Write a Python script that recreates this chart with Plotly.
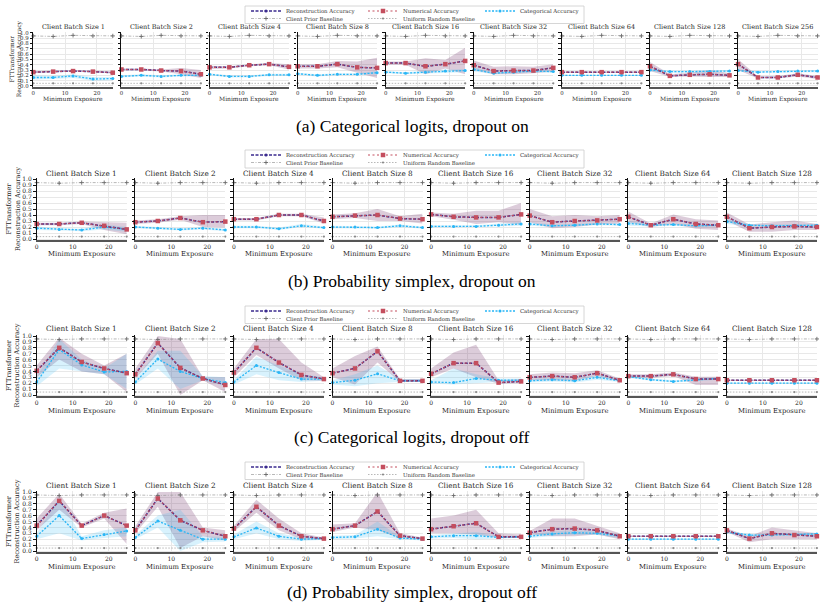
import plotly.graph_objects as go

# ---------------- data ----------------
X = [0, 6.25, 12.5, 18.75, 25]
X_TICKS = [0, 10, 20]
Y_TICKS = [0.0, 0.1, 0.2, 0.3, 0.4, 0.5, 0.6, 0.7, 0.8, 0.9, 1.0]
Y_TICK_TEXT = ["0.0", "0.1", "0.2", "0.3", "0.4", "0.5", "0.6", "0.7", "0.8", "0.9", "1.0"]

CAPTIONS = ["(a) Categorical logits, dropout on",
            "(b) Probability simplex, dropout on",
            "(c) Categorical logits, dropout off",
            "(d) Probability simplex, dropout off"]

# (a) Categorical logits, dropout on
BS_A = [1, 2, 4, 8, 16, 32, 64, 128, 256]
NUM_A = [[0.26, 0.27, 0.28, 0.27, 0.25], [0.31, 0.31, 0.29, 0.28, 0.22], [0.35, 0.35, 0.39, 0.41, 0.36],
         [0.37, 0.37, 0.41, 0.35, 0.34], [0.43, 0.43, 0.37, 0.41, 0.47], [0.39, 0.28, 0.29, 0.29, 0.34],
         [0.26, 0.26, 0.26, 0.26, 0.26], [0.37, 0.19, 0.21, 0.22, 0.20], [0.41, 0.16, 0.16, 0.21, 0.16]]
NUM_LO_A = [[0.24, 0.26, 0.27, 0.25, 0.24], [0.29, 0.29, 0.27, 0.22, 0.15], [0.32, 0.33, 0.37, 0.39, 0.31],
            [0.33, 0.33, 0.35, 0.25, 0.15], [0.40, 0.40, 0.22, 0.33, 0.22], [0.30, 0.22, 0.22, 0.24, 0.27],
            [0.25, 0.25, 0.25, 0.25, 0.25], [0.28, 0.17, 0.18, 0.17, 0.17], [0.30, 0.14, 0.14, 0.18, 0.13]]
NUM_HI_A = [[0.28, 0.29, 0.30, 0.29, 0.27], [0.33, 0.33, 0.31, 0.34, 0.30], [0.38, 0.37, 0.41, 0.43, 0.41],
            [0.41, 0.41, 0.47, 0.46, 0.53], [0.46, 0.46, 0.52, 0.49, 0.72], [0.48, 0.36, 0.37, 0.36, 0.41],
            [0.27, 0.27, 0.27, 0.27, 0.27], [0.45, 0.22, 0.25, 0.30, 0.24], [0.50, 0.18, 0.19, 0.24, 0.19]]
CAT_A = [[0.16, 0.16, 0.19, 0.13, 0.14], [0.18, 0.20, 0.18, 0.20, 0.20], [0.22, 0.18, 0.18, 0.21, 0.21],
         [0.23, 0.20, 0.22, 0.22, 0.25], [0.26, 0.24, 0.26, 0.28, 0.29], [0.31, 0.24, 0.26, 0.28, 0.27],
         [0.20, 0.20, 0.20, 0.20, 0.20], [0.30, 0.27, 0.27, 0.27, 0.28], [0.29, 0.26, 0.27, 0.28, 0.28]]
CAT_LO_A = [[0.12, 0.13, 0.15, 0.10, 0.11], [0.16, 0.18, 0.16, 0.18, 0.18], [0.20, 0.16, 0.16, 0.19, 0.19],
            [0.21, 0.18, 0.20, 0.20, 0.22], [0.24, 0.22, 0.23, 0.25, 0.26], [0.27, 0.22, 0.24, 0.26, 0.25],
            [0.19, 0.19, 0.19, 0.19, 0.19], [0.27, 0.25, 0.25, 0.25, 0.26], [0.27, 0.25, 0.26, 0.26, 0.26]]
CAT_HI_A = [[0.20, 0.19, 0.22, 0.17, 0.17], [0.20, 0.22, 0.20, 0.22, 0.22], [0.24, 0.20, 0.20, 0.23, 0.23],
            [0.25, 0.22, 0.24, 0.24, 0.28], [0.28, 0.26, 0.29, 0.31, 0.32], [0.35, 0.26, 0.28, 0.30, 0.29],
            [0.21, 0.21, 0.21, 0.21, 0.21], [0.33, 0.29, 0.29, 0.30, 0.30], [0.31, 0.28, 0.29, 0.30, 0.30]]
PRIOR_A = [0.94, 0.93, 0.95, 0.94, 0.94]
UNIFORM_A = [0.05, 0.05, 0.05, 0.05, 0.05]

# (b) Probability simplex, dropout on
BS_B = [1, 2, 4, 8, 16, 32, 64, 128]
NUM_B = [[0.25, 0.25, 0.27, 0.22, 0.16], [0.28, 0.30, 0.35, 0.28, 0.29], [0.33, 0.33, 0.40, 0.40, 0.30],
         [0.37, 0.39, 0.40, 0.34, 0.33], [0.41, 0.37, 0.36, 0.36, 0.41], [0.39, 0.28, 0.30, 0.31, 0.33],
         [0.37, 0.23, 0.33, 0.25, 0.23], [0.37, 0.18, 0.20, 0.21, 0.20]]
NUM_LO_B = [[0.23, 0.23, 0.25, 0.15, 0.08], [0.25, 0.27, 0.32, 0.20, 0.19], [0.31, 0.31, 0.38, 0.38, 0.26],
            [0.33, 0.35, 0.30, 0.30, 0.26], [0.38, 0.32, 0.25, 0.28, 0.24], [0.28, 0.18, 0.20, 0.24, 0.26],
            [0.28, 0.20, 0.25, 0.17, 0.15], [0.30, 0.12, 0.12, 0.15, 0.15]]
NUM_HI_B = [[0.27, 0.27, 0.29, 0.28, 0.27], [0.31, 0.33, 0.38, 0.40, 0.40], [0.35, 0.35, 0.42, 0.42, 0.36],
            [0.41, 0.43, 0.50, 0.38, 0.42], [0.44, 0.42, 0.47, 0.47, 0.60], [0.50, 0.38, 0.40, 0.38, 0.40],
            [0.46, 0.26, 0.41, 0.33, 0.31], [0.44, 0.24, 0.28, 0.31, 0.25]]
CAT_B = [[0.18, 0.16, 0.15, 0.20, 0.16], [0.20, 0.18, 0.16, 0.18, 0.15], [0.20, 0.20, 0.17, 0.22, 0.19],
         [0.20, 0.20, 0.19, 0.22, 0.19], [0.21, 0.21, 0.21, 0.23, 0.25], [0.25, 0.22, 0.23, 0.25, 0.24],
         [0.26, 0.23, 0.24, 0.22, 0.23], [0.29, 0.23, 0.22, 0.23, 0.23]]
CAT_LO_B = [[0.15, 0.14, 0.13, 0.16, 0.12], [0.18, 0.16, 0.14, 0.16, 0.13], [0.18, 0.18, 0.15, 0.20, 0.17],
            [0.18, 0.18, 0.17, 0.20, 0.17], [0.19, 0.19, 0.19, 0.21, 0.22], [0.22, 0.20, 0.21, 0.23, 0.22],
            [0.22, 0.21, 0.22, 0.20, 0.21], [0.25, 0.21, 0.20, 0.21, 0.21]]
CAT_HI_B = [[0.21, 0.18, 0.17, 0.24, 0.20], [0.22, 0.20, 0.18, 0.20, 0.17], [0.22, 0.22, 0.19, 0.25, 0.21],
            [0.22, 0.22, 0.21, 0.24, 0.21], [0.23, 0.23, 0.23, 0.26, 0.28], [0.28, 0.24, 0.25, 0.27, 0.26],
            [0.30, 0.25, 0.26, 0.24, 0.25], [0.33, 0.25, 0.24, 0.25, 0.25]]
PRIOR_B = [0.94, 0.93, 0.94, 0.94, 0.94]
UNIFORM_B = [0.04, 0.04, 0.04, 0.04, 0.04]

# (c) Categorical logits, dropout off
BS_C = [1, 2, 4, 8, 16, 32, 64, 128]
NUM_C = [[0.41, 0.80, 0.56, 0.45, 0.37], [0.35, 0.88, 0.46, 0.28, 0.17], [0.38, 0.80, 0.55, 0.34, 0.27],
         [0.37, 0.45, 0.74, 0.24, 0.24], [0.36, 0.54, 0.54, 0.21, 0.23], [0.30, 0.32, 0.30, 0.37, 0.25],
         [0.32, 0.32, 0.35, 0.27, 0.27], [0.25, 0.25, 0.25, 0.25, 0.25]]
NUM_LO_C = [[0.30, 0.60, 0.40, 0.35, 0.05], [0.28, 0.70, 0.00, 0.25, 0.05], [0.30, 0.68, 0.45, 0.25, 0.24],
            [0.30, 0.18, 0.55, 0.22, 0.22], [0.30, 0.45, 0.30, 0.19, 0.20], [0.25, 0.25, 0.24, 0.32, 0.23],
            [0.29, 0.29, 0.32, 0.17, 0.17], [0.24, 0.24, 0.24, 0.24, 0.24]]
NUM_HI_C = [[0.50, 0.97, 0.70, 0.50, 0.70], [0.45, 1.00, 0.95, 0.30, 0.30], [0.45, 0.95, 0.95, 0.55, 0.30],
            [0.45, 0.66, 0.82, 0.27, 0.27], [0.45, 0.72, 0.85, 0.25, 0.27], [0.35, 0.38, 0.37, 0.42, 0.28],
            [0.35, 0.35, 0.38, 0.31, 0.31], [0.26, 0.26, 0.26, 0.26, 0.26]]
CAT_C = [[0.22, 0.77, 0.51, 0.39, 0.40], [0.22, 0.61, 0.40, 0.28, 0.21], [0.22, 0.50, 0.38, 0.27, 0.27],
         [0.21, 0.25, 0.36, 0.24, 0.24], [0.22, 0.21, 0.28, 0.25, 0.25], [0.24, 0.26, 0.24, 0.30, 0.24],
         [0.31, 0.26, 0.23, 0.26, 0.28], [0.20, 0.20, 0.20, 0.20, 0.20]]
CAT_LO_C = [[0.15, 0.45, 0.40, 0.35, 0.10], [0.18, 0.45, 0.10, 0.25, 0.15], [0.18, 0.35, 0.25, 0.22, 0.24],
            [0.18, 0.15, 0.20, 0.22, 0.22], [0.19, 0.18, 0.20, 0.22, 0.22], [0.21, 0.23, 0.21, 0.26, 0.22],
            [0.29, 0.24, 0.21, 0.24, 0.26], [0.19, 0.19, 0.19, 0.19, 0.19]]
CAT_HI_C = [[0.30, 0.95, 0.60, 0.45, 0.70], [0.28, 0.75, 0.75, 0.32, 0.30], [0.26, 0.65, 0.50, 0.35, 0.30],
            [0.25, 0.35, 0.50, 0.27, 0.27], [0.25, 0.45, 0.35, 0.28, 0.28], [0.27, 0.29, 0.27, 0.34, 0.26],
            [0.33, 0.28, 0.25, 0.28, 0.30], [0.21, 0.21, 0.21, 0.21, 0.21]]
PRIOR_C = [0.95, 0.94, 0.95, 0.95, 0.95]
UNIFORM_C = [0.05, 0.05, 0.05, 0.05, 0.05]

# (d) Probability simplex, dropout off
BS_D = [1, 2, 4, 8, 16, 32, 64, 128]
NUM_D = [[0.43, 0.85, 0.43, 0.60, 0.43], [0.35, 0.89, 0.52, 0.35, 0.25], [0.38, 0.75, 0.43, 0.25, 0.21],
         [0.37, 0.43, 0.67, 0.26, 0.21], [0.37, 0.42, 0.47, 0.24, 0.24], [0.31, 0.37, 0.38, 0.35, 0.25],
         [0.25, 0.25, 0.25, 0.25, 0.25], [0.35, 0.21, 0.30, 0.27, 0.25]]
NUM_LO_D = [[0.35, 0.70, 0.40, 0.55, 0.12], [0.30, 0.75, 0.05, 0.25, 0.18], [0.33, 0.65, 0.35, 0.20, 0.19],
            [0.32, 0.40, 0.35, 0.22, 0.20], [0.30, 0.30, 0.28, 0.22, 0.22], [0.28, 0.25, 0.25, 0.28, 0.20],
            [0.24, 0.24, 0.24, 0.24, 0.24], [0.32, 0.15, 0.20, 0.20, 0.20]]
NUM_HI_D = [[0.55, 0.97, 0.46, 0.65, 0.72], [0.42, 1.00, 1.00, 0.40, 0.35], [0.43, 0.87, 0.55, 0.30, 0.23],
            [0.45, 0.47, 1.00, 0.30, 0.23], [0.55, 0.60, 0.70, 0.30, 0.28], [0.34, 0.55, 0.55, 0.42, 0.30],
            [0.26, 0.26, 0.26, 0.26, 0.26], [0.38, 0.25, 0.40, 0.35, 0.30]]
CAT_D = [[0.25, 0.60, 0.21, 0.28, 0.34], [0.23, 0.51, 0.35, 0.20, 0.20], [0.24, 0.39, 0.25, 0.20, 0.21],
         [0.23, 0.24, 0.37, 0.22, 0.20], [0.24, 0.26, 0.26, 0.23, 0.24], [0.25, 0.29, 0.31, 0.30, 0.25],
         [0.20, 0.20, 0.20, 0.20, 0.20], [0.32, 0.27, 0.27, 0.28, 0.29]]
CAT_LO_D = [[0.20, 0.30, 0.18, 0.22, 0.25], [0.20, 0.40, 0.00, 0.15, 0.16], [0.20, 0.30, 0.20, 0.17, 0.19],
            [0.20, 0.21, 0.25, 0.20, 0.18], [0.21, 0.22, 0.20, 0.21, 0.22], [0.22, 0.25, 0.27, 0.27, 0.22],
            [0.19, 0.19, 0.19, 0.19, 0.19], [0.30, 0.25, 0.25, 0.26, 0.27]]
CAT_HI_D = [[0.30, 0.90, 0.25, 0.35, 0.40], [0.27, 0.60, 0.70, 0.25, 0.24], [0.28, 0.50, 0.30, 0.23, 0.23],
            [0.26, 0.27, 0.50, 0.24, 0.22], [0.27, 0.30, 0.32, 0.25, 0.26], [0.28, 0.33, 0.35, 0.33, 0.28],
            [0.21, 0.21, 0.21, 0.21, 0.21], [0.34, 0.29, 0.29, 0.30, 0.31]]
PRIOR_D = [0.95, 0.94, 0.95, 0.95, 0.95]
UNIFORM_D = [0.05, 0.05, 0.05, 0.05, 0.05]

# ---------------- layout geometry (pixels) ----------------
W, H = 824, 608
Y_RANGE = [-0.02, 1.01]
GEOM = [
    dict(left=33.3, pitch=88.1, width=79.5, ytop=32.7, ybot=86.0, title=27.0, xlabel=99.0, caption=126.0,
         leg=(11.0, 18.5), box=(6.0, 23.5), ytitle_x=16.0, tick=5.4, tfont=6.5, xlfont=6.0, ytfont=6.0),
    dict(left=36.7, pitch=98.6, width=90.0, ytop=179.0, ybot=239.0, title=173.0, xlabel=254.0, caption=281.0,
         leg=(155.0, 162.5), box=(150.0, 168.0), ytitle_x=13.0, tick=6.0, tfont=7.3, xlfont=6.8, ytfont=6.6),
    dict(left=36.7, pitch=98.6, width=90.0, ytop=336.0, ybot=395.0, title=329.0, xlabel=411.0, caption=437.0,
         leg=(311.0, 318.5), box=(306.0, 323.5), ytitle_x=13.0, tick=6.0, tfont=7.3, xlfont=6.8, ytfont=6.6),
    dict(left=36.7, pitch=98.6, width=90.0, ytop=492.0, ybot=551.0, title=485.0, xlabel=567.0, caption=592.0,
         leg=(467.0, 474.5), box=(462.0, 479.5), ytitle_x=13.0, tick=6.0, tfont=7.3, xlfont=6.8, ytfont=6.6),
]

ROWS = [
    (BS_A, NUM_A, NUM_LO_A, NUM_HI_A, CAT_A, CAT_LO_A, CAT_HI_A, PRIOR_A, UNIFORM_A),
    (BS_B, NUM_B, NUM_LO_B, NUM_HI_B, CAT_B, CAT_LO_B, CAT_HI_B, PRIOR_B, UNIFORM_B),
    (BS_C, NUM_C, NUM_LO_C, NUM_HI_C, CAT_C, CAT_LO_C, CAT_HI_C, PRIOR_C, UNIFORM_C),
    (BS_D, NUM_D, NUM_LO_D, NUM_HI_D, CAT_D, CAT_LO_D, CAT_HI_D, PRIOR_D, UNIFORM_D),
]

# styles
FONT = "DejaVu Serif"
C_RECON = "#3b2b8e"
C_NUM = "#c44e5e"
C_CAT = "#29b6f6"
C_BASE = "#9a9a9a"
BAND_NUM = "rgba(110,40,100,0.24)"
BAND_CAT = "rgba(41,182,246,0.18)"
GRID = "#e8e8e8"
LEG_FONT = 5.4
LEG_ENTRY = 72
LEG_LEFT = 246

fig = go.Figure()
layout = dict(
    width=W, height=H,
    margin=dict(l=0, r=0, t=0, b=0, autoexpand=False),
    paper_bgcolor="white", plot_bgcolor="white",
    font=dict(family=FONT, color="#262626"),
    showlegend=True,
)
annotations = []
shapes = []


def px_x(p):
    return p / W


def px_y(p):
    return 1 - p / H


k = 0
for r, (bs_list, num, nlo, nhi, cat, clo, chi, prior, unif) in enumerate(ROWS):
    g = GEOM[r]
    leg_top = "legend" if r == 0 else f"legend{2 * r + 1}"
    leg_bot = f"legend{2 * r + 2}"
    s = g["ybot"] - g["ytop"]
    dom_top = g["ytop"] - (Y_RANGE[1] - 1.0) * s
    dom_bot = g["ybot"] + (0.0 - Y_RANGE[0]) * s
    for i, bs in enumerate(bs_list):
        k += 1
        xa = "x" if k == 1 else f"x{k}"
        ya = "y" if k == 1 else f"y{k}"
        x0 = g["left"] + i * g["pitch"]
        x1 = x0 + g["width"]
        show = (i == 0)
        common = dict(xaxis=xa, yaxis=ya, hoverinfo="skip")

        # bands
        fig.add_trace(go.Scatter(x=X + X[::-1], y=nhi[i] + nlo[i][::-1], fill="toself", fillcolor=BAND_NUM,
                                 line=dict(width=0), mode="lines", showlegend=False, **common))
        fig.add_trace(go.Scatter(x=X + X[::-1], y=chi[i] + clo[i][::-1], fill="toself", fillcolor=BAND_CAT,
                                 line=dict(width=0), mode="lines", showlegend=False, **common))
        # baselines
        fig.add_trace(go.Scatter(x=X, y=prior, mode="lines+markers", name="Client Prior Baseline",
                                 line=dict(color=C_BASE, width=0.7, dash="3px,1.5px,1px,1.5px"),
                                 marker=dict(symbol="cross-thin", size=3, line=dict(width=0.9, color="#6a6a6a")),
                                 legend=leg_bot, legendrank=4, showlegend=show, cliponaxis=False, **common))
        fig.add_trace(go.Scatter(x=X, y=unif, mode="lines+markers", name="Uniform Random Baseline",
                                 line=dict(color=C_BASE, width=0.7, dash="1.5px,1.5px"),
                                 marker=dict(symbol="circle", size=2.2, color="#8a8a8a"),
                                 legend=leg_bot, legendrank=5, showlegend=show, cliponaxis=False, **common))
        # categorical
        fig.add_trace(go.Scatter(x=X, y=cat[i], mode="lines+markers", name="Categorical Accuracy",
                                 line=dict(color=C_CAT, width=1.3, dash="2px,1.5px"),
                                 marker=dict(symbol="circle", size=3, color=C_CAT),
                                 legend=leg_top, legendrank=3, showlegend=show, cliponaxis=False, **common))
        # reconstruction (coincides with numerical)
        fig.add_trace(go.Scatter(x=X, y=num[i], mode="lines+markers", name="Reconstruction Accuracy",
                                 line=dict(color=C_RECON, width=1.5, dash="3px,1.5px"),
                                 marker=dict(symbol="circle", size=3, color=C_RECON),
                                 legend=leg_top, legendrank=1, showlegend=show, cliponaxis=False, **common))
        # numerical
        fig.add_trace(go.Scatter(x=X, y=num[i], mode="lines+markers", name="Numerical Accuracy",
                                 line=dict(color=C_NUM, width=1.2, dash="2px,2.5px"),
                                 marker=dict(symbol="square", size=4.5, color=C_NUM),
                                 legend=leg_top, legendrank=2, showlegend=show, cliponaxis=False, **common))

        xkey = "xaxis" if k == 1 else f"xaxis{k}"
        ykey = "yaxis" if k == 1 else f"yaxis{k}"
        layout[xkey] = dict(domain=[px_x(x0), px_x(x1)], anchor=ya, range=[0, 25], tickvals=X_TICKS,
                            showgrid=True, gridcolor=GRID, gridwidth=0.8, showline=True, linecolor="#555555",
                            linewidth=1.8, ticks="", zeroline=False, fixedrange=True,
                            tickfont=dict(size=g["tick"], family=FONT, color="#262626"))
        layout[ykey] = dict(domain=[px_y(dom_bot), px_y(dom_top)], anchor=xa, range=Y_RANGE,
                            tickvals=Y_TICKS, ticktext=Y_TICK_TEXT, showticklabels=show,
                            ticks="outside", ticklen=2.5, tickwidth=1, tickcolor="#111111",
                            showline=True, linecolor="#111111", linewidth=1.3,
                            showgrid=True, gridcolor=GRID, gridwidth=0.8, zeroline=False, fixedrange=True,
                            tickfont=dict(size=g["tick"], family=FONT, color="#262626"))

        cx = (x0 + x1) / 2
        annotations.append(dict(text=f"Client Batch Size {bs}", x=px_x(cx), y=px_y(g["title"]),
                                xref="paper", yref="paper", xanchor="center", yanchor="middle",
                                showarrow=False, font=dict(size=g["tfont"], family=FONT, color="#262626")))
        annotations.append(dict(text="Minimum Exposure", x=px_x(cx), y=px_y(g["xlabel"]),
                                xref="paper", yref="paper", xanchor="center", yanchor="middle",
                                showarrow=False, font=dict(size=g["xlfont"], family=FONT, color="#262626")))

    # y title
    annotations.append(dict(text="FTTransformer<br>Reconstruction Accuracy", x=px_x(g["ytitle_x"]),
                            y=px_y((g["ytop"] + g["ybot"]) / 2), xref="paper", yref="paper",
                            xanchor="center", yanchor="middle", textangle=-90, showarrow=False,
                            font=dict(size=g["ytfont"], family=FONT, color="#262626")))
    # caption
    annotations.append(dict(text=CAPTIONS[r], x=0.5, y=px_y(g["caption"]), xref="paper", yref="paper",
                            xanchor="center", yanchor="middle", showarrow=False,
                            font=dict(size=17.5, family="Liberation Serif", color="#000000")))

    # legends (two rows, aligned columns)
    for lid, cy in ((leg_top, g["leg"][0]), (leg_bot, g["leg"][1])):
        layout[lid] = dict(orientation="h", x=px_x(LEG_LEFT), xanchor="left", y=px_y(cy), yanchor="middle",
                           bgcolor="rgba(0,0,0,0)", borderwidth=0, entrywidth=LEG_ENTRY,
                           entrywidthmode="pixels", itemwidth=30, traceorder="normal",
                           font=dict(size=LEG_FONT, family=FONT, color="#333333"))
    shapes.append(dict(type="rect", xref="paper", yref="paper",
                       x0=px_x(LEG_LEFT - 1), x1=px_x(LEG_LEFT + 338),
                       y0=px_y(g["box"][1]), y1=px_y(g["box"][0]),
                       line=dict(color="#cccccc", width=0.8), fillcolor="rgba(0,0,0,0)", layer="above"))

layout["annotations"] = annotations
layout["shapes"] = shapes
fig.update_layout(**layout)
fig.write_html("out.html")
